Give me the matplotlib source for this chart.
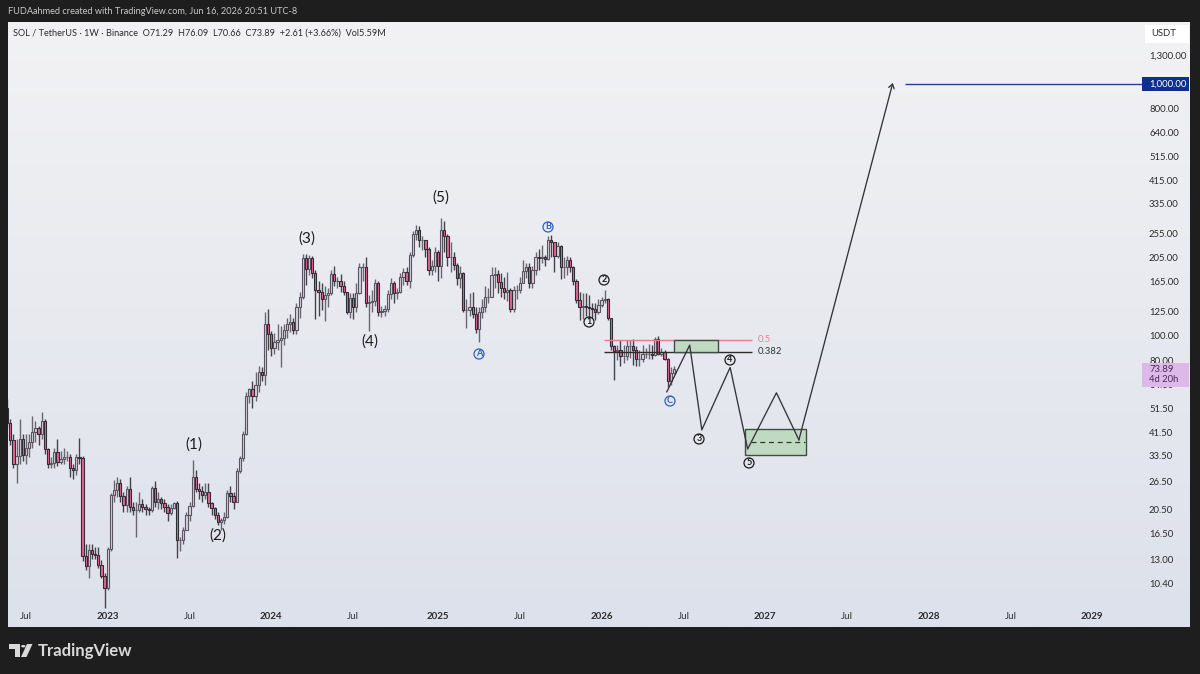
"""SOL / USDT weekly chart with the wave projection, TradingView look"""
import numpy as np
import pandas as pd
import matplotlib
matplotlib.use('Agg')
import matplotlib.pyplot as plt
import matplotlib.dates as mdates
from matplotlib.patches import Polygon, Rectangle, Circle

plt.rcParams['font.family'] = ['Lato', 'DejaVu Sans']

W, H = 1200, 674

# weekly candles
first_date = '2022-05-23'
first_open = 52
closes = [
    45, 38.7, 31, 33.5, 39, 33.8, 36, 38, 41.5, 43,
    41, 46, 35.5, 31, 31.2, 34.5, 31.5, 32.5, 33, 33,
    30, 29.4, 33, 32.8, 13.4, 12.2, 14.1, 13.7, 13.5, 12.3,
    11.2, 10, 14.3, 23.4, 24.5, 26, 23.2, 21.3, 24.7, 21,
    20.3, 20.3, 21.5, 21, 20.6, 20.3, 25, 22, 22.5, 21.7,
    21, 19.8, 20.7, 21.8, 15.5, 15.5, 17, 19.4, 21.1, 27.5,
    24.8, 24.2, 23.3, 24, 21.7, 20.7, 19.4, 18.3, 18.6, 19.2,
    23.8, 23.2, 22, 29, 32.8, 41, 58, 61.5, 58, 64,
    72, 70, 112, 102, 89.5, 95, 96, 98, 106, 112,
    114, 105.5, 130, 143, 203, 185, 203, 178, 152, 150,
    140, 146, 148, 176, 165, 166, 158, 150, 125, 142,
    130, 148, 187, 187, 135, 137, 138, 162, 125, 126,
    128, 147, 163, 148, 150, 172, 180, 165, 210, 253,
    263, 240, 240, 222, 183, 190, 215, 190, 263, 250,
    205, 205, 192, 170, 178, 127, 127, 130, 122, 107,
    125, 130, 143, 143, 175, 176, 164, 155, 150, 152,
    128, 152, 152, 162, 181, 188, 162, 182, 205, 204,
    205, 202, 240, 235, 207, 228, 187, 187, 200, 187,
    165, 139, 130, 131, 130, 129, 128, 125, 133, 139,
    140, 118, 91, 87, 88, 83, 83, 91, 91, 88,
    81, 81, 85, 85, 85, 84, 97, 85, 86, 81,
    66, 71.29, 73.89,
]
highs = [
    56, 47, 41, 39, 47, 41, 41, 41, 48, 46,
    44, 50, 47, 36, 33, 36, 39, 35, 36, 35,
    34, 31, 34, 39.5, 33.5, 15, 15, 15, 14.5, 14.5,
    12.9, 11.5, 14.6, 23.8, 26.7, 27.5, 27, 24, 25.5, 27.5,
    22, 22, 24, 22.5, 21.5, 21, 25.5, 26.5, 24, 23,
    22.5, 21.5, 21.5, 22, 22.2, 16, 17.5, 20, 22, 32.2,
    29.5, 26, 25.5, 26, 26, 22, 21, 20, 19, 20,
    24.5, 25.5, 24, 30, 33.5, 42, 60, 62, 66, 72,
    76, 75, 125, 128, 105, 103, 112, 110, 112, 118,
    122, 118, 135, 150, 212, 212, 210, 208, 182, 165,
    162, 158, 155, 183, 190, 172, 176, 165, 150, 148,
    148, 162, 195, 195, 205, 145, 152, 168, 165, 132,
    133, 152, 170, 166, 155, 177, 186, 188, 215, 262,
    275, 272, 250, 240, 225, 200, 225, 220, 295, 285,
    255, 235, 215, 195, 190, 180, 140, 148, 150, 130,
    130, 140, 158, 155, 188, 187, 183, 178, 172, 180,
    155, 158, 160, 172, 200, 195, 195, 190, 215, 222,
    230, 210, 250, 252, 237, 235, 230, 205, 208, 205,
    190, 168, 150, 148, 148, 145, 135, 135, 140, 143,
    152, 142, 118, 92, 92, 96, 92, 96, 96, 97,
    91, 88, 92, 90, 93, 92, 99, 100, 90, 88,
    82, 75, 76.09,
]
lows = [
    43, 37, 30, 26, 31, 32, 31, 33, 36, 38,
    37, 39, 34, 30, 30, 30, 30.5, 31, 31, 32,
    27.5, 27, 28, 31, 12.8, 11.8, 11, 13, 13, 12,
    11, 8.3, 9.8, 14, 22, 23, 22, 20, 20, 20,
    19.5, 16, 20, 20, 19.5, 19.5, 20, 21, 20.5, 20.5,
    20, 18.5, 19.5, 20.5, 13.2, 14, 15, 17, 18.5, 21,
    24, 22.5, 22, 22.5, 21, 19.5, 18.8, 17.8, 17, 18,
    19, 22, 20.5, 22, 28.5, 32, 40.5, 54, 52, 55,
    60, 66, 64, 88, 83, 85, 88, 75, 92, 98,
    104, 102, 102, 118, 140, 160, 175, 170, 117, 120,
    127, 115, 130, 146, 158, 155, 150, 145, 122, 118,
    117, 125, 147, 165, 130, 105, 125, 132, 120, 119,
    120, 124, 140, 135, 140, 148, 160, 160, 155, 205,
    240, 225, 220, 205, 175, 175, 180, 165, 170, 215,
    190, 180, 182, 160, 155, 125, 108, 120, 118, 103,
    95, 118, 125, 135, 143, 155, 148, 143, 140, 138,
    124, 125, 140, 148, 162, 170, 155, 155, 175, 182,
    195, 190, 200, 205, 180, 203, 168, 170, 175, 180,
    160, 135, 116, 117, 120, 118, 118, 116, 122, 130,
    135, 116, 88, 67, 80, 76, 78, 80, 82, 77,
    76, 76, 79, 82, 81, 81, 83, 84, 83, 80,
    63, 64, 70.66,
]

# hand drawn projection
wave_dates = ['2026-05-30', '2026-07-20', '2026-08-16', '2026-10-18',
              '2026-11-26', '2027-01-29', '2027-03-20', '2027-10-15']
wave_prices = [60, 92, 42.4, 75, 35.6, 59.5, 38.7, 1010]
upper_zone_dates = ['2026-06-14', '2026-09-20']
upper_zone_prices = [86.5, 96]
lower_zone_dates = ['2026-11-21', '2027-04-04']
lower_zone_prices = [33.6, 42.7]
zone_mid_dates = ['2026-12-03', '2027-04-02']
zone_mid_price = 38
fib_dates = ['2026-01-10', '2026-12-05']
fib_levels = [96, 86.5]
fib_names = ['0.5', '0.382']
target_start = '2027-11-11'
target_price = 1000
last_price = 73.89

y_ticks = [1300, 800, 640, 515, 415, 335, 255, 205, 165, 125, 100,
           80, 64, 51.5, 41.5, 33.5, 26.5, 20.5, 16.5, 13, 10.4]
x_tick_dates = ['2022-07-04', '2023-01-02', '2023-07-03', '2024-01-01', '2024-07-01',
                '2025-01-06', '2025-07-07', '2026-01-05', '2026-07-06', '2027-01-04',
                '2027-07-05', '2028-01-03', '2028-07-03', '2029-01-01']
x_tick_labels = ['Jul', '2023', 'Jul', '2024', 'Jul', '2025', 'Jul', '2026',
                 'Jul', '2027', 'Jul', '2028', 'Jul', '2029']

DARK = '#1e1e1e'
UP_FILL = '#d6d2dc'
DOWN_FILL = '#e2668f'
EDGE = '#322c36'
UP_EDGE = '#5a5460'
WICK = '#6a6670'
TXT = '#2b2b2b'


def fx(x):
    return x / W


def fy(y):
    return 1 - y / H


def panel(x0, y0, x1, y1, **kw):
    return fig.add_axes([fx(x0), fy(y1), (x1 - x0) / W, (y1 - y0) / H], **kw)


def tag(x0, y0, x1, y1, color):
    fig.add_artist(Rectangle((fx(x0), fy(y1)), (x1 - x0) / W, (y1 - y0) / H,
                             transform=fig.transFigure, facecolor=color,
                             edgecolor='none', zorder=8))


def label(x, y, s, size=6.8, color=TXT, ha='center', weight='normal', zorder=9):
    fig.text(fx(x), fy(y), s, fontsize=size, color=color, ha=ha, va='center',
             fontweight=weight, zorder=zorder)


def ring(x, y, s, color):
    # circled wave count
    r = 5.0
    fig.add_artist(Circle((x, H - y), r, transform=None, facecolor='none',
                          edgecolor=color, linewidth=0.9, zorder=9))
    label(x, y - 0.2, s, size=6.5, color=color, weight='bold')


fig = plt.figure(figsize=(W / 100, H / 100), dpi=100, facecolor=DARK)

# chart background gradient
bg = panel(8, 22, 1190, 627)
bg.axis('off')
shade = np.linspace(0, 1, 256).reshape(-1, 1, 1)
top = np.array([0xf2, 0xf2, 0xf4]).reshape(1, 1, 3) / 255
bot = np.array([0xdd, 0xe1, 0xeb]).reshape(1, 1, 3) / 255
bg.imshow(top + (bot - top) * shade, aspect='auto', extent=(0, 1, 0, 1))

ax = panel(8, 22, 1144, 627)
ax.patch.set_alpha(0)
ax.set_yscale('log')
ax.set_ylim(7.0, 1762)
ax.set_xlim(mdates.date2num(pd.Timestamp('2022-05-25')),
            mdates.date2num(pd.Timestamp('2029-04-26')))
for side in ax.spines.values():
    side.set_visible(False)

dates = mdates.date2num(pd.date_range(first_date, periods=len(closes), freq='7D'))
c = np.array(closes, dtype=float)
o = np.r_[first_open, c[:-1]]
hi = np.array(highs, dtype=float)
lo = np.array(lows, dtype=float)
up = c >= o

ax.vlines(dates[up], lo[up], hi[up], color=WICK, linewidth=1.0, zorder=2)
ax.vlines(dates[~up], lo[~up], hi[~up], color='#45424a', linewidth=1.0, zorder=2)
ax.bar(dates[up], (c - o)[up], bottom=o[up], width=5.0, facecolor=UP_FILL,
       edgecolor=UP_EDGE, linewidth=0.8, zorder=3)
ax.bar(dates[~up], (o - c)[~up], bottom=c[~up], width=5.0, facecolor=DOWN_FILL,
       edgecolor=EDGE, linewidth=0.8, zorder=3)

# fib levels and demand zones
fx0, fx1 = mdates.date2num(pd.to_datetime(fib_dates))
ax.hlines(fib_levels[0], fx0, fx1, color='#f0788c', linewidth=1.0, zorder=4)
ax.hlines(fib_levels[1], fx0, fx1, color='#2d2d2d', linewidth=1.0, zorder=4)

for zd, zp in ((upper_zone_dates, upper_zone_prices), (lower_zone_dates, lower_zone_prices)):
    z0, z1 = mdates.date2num(pd.to_datetime(zd))
    ax.add_patch(Rectangle((z0, zp[0]), z1 - z0, zp[1] - zp[0], facecolor='#c0dac2',
                           edgecolor='#3c4f40', linewidth=1.0, zorder=5))
m0, m1 = mdates.date2num(pd.to_datetime(zone_mid_dates))
ax.hlines(zone_mid_price, m0, m1, color='#2d3a30', linewidth=0.9,
          linestyles=(0, (4, 3)), zorder=6)

# wave path, the last leg ends with an open arrow head
wx = mdates.date2num(pd.to_datetime(wave_dates))
ax.plot(wx[:-1], wave_prices[:-1], color='#333338', linewidth=0.95, zorder=7)
ax.annotate('', xy=(wx[-1], wave_prices[-1]), xytext=(wx[-2], wave_prices[-2]),
            arrowprops=dict(arrowstyle='->,head_length=0.3,head_width=0.2',
                            color='#333338', lw=0.95, shrinkA=0, shrinkB=0), zorder=7)

ax.hlines(target_price, mdates.date2num(pd.Timestamp(target_start)), ax.get_xlim()[1],
          color='#23408f', linewidth=1.0, zorder=4)

# axes
ax.yaxis.tick_right()
ax.set_yticks(y_ticks)
ax.set_yticks([], minor=True)
ax.set_yticklabels([f'{v:,.2f}' for v in y_ticks])
ax.tick_params(axis='y', length=0, pad=3.6, labelsize=6.8, labelcolor=TXT)
ax.set_xticks(mdates.date2num(pd.to_datetime(x_tick_dates)))
ax.set_xticks([], minor=True)
ax.set_xticklabels(x_tick_labels)
ax.tick_params(axis='x', length=0, pad=-11, labelsize=7.0, labelcolor=TXT)
for t, s in zip(ax.get_xticklabels(), x_tick_labels):
    if s != 'Jul':
        t.set_fontweight('bold')

# header and footer
label(8, 12, 'FUDAahmed created with TradingView.com, Jun 16, 2026 20:51 UTC-8',
      size=6.6, color='#c9c9c9', ha='left')
label(13, 33, 'SOL / TetherUS · 1W · Binance  O71.29  H76.09  L70.66  C73.89  +2.61 (+3.66%)  Vol5.59M',
      size=6.6, color=TXT, ha='left')
label(38, 651, 'TradingView', size=12.1, color='#d9d9d9', ha='left', weight='bold')
fig.add_artist(Polygon([(fx(9), fy(644)), (fx(20), fy(644)), (fx(20), fy(657)), (fx(15), fy(657)),
                        (fx(15), fy(648.5)), (fx(9), fy(648.5))],
                       transform=fig.transFigure, facecolor='#d9d9d9', edgecolor='none'))
fig.add_artist(Polygon([(fx(27), fy(644)), (fx(32.5), fy(644)), (fx(26.5), fy(657)), (fx(21), fy(657))],
                       transform=fig.transFigure, facecolor='#d9d9d9', edgecolor='none'))
fig.add_artist(Circle((fx(23.3), fy(646.2)), 2.2 / W, transform=fig.transFigure,
                      facecolor='#d9d9d9', edgecolor='none'))

# price tags
tag(1145, 25, 1189, 43, 'white')
label(1151, 34, 'USDT', ha='left')
tag(1142, 77, 1189, 91, '#0f2f8e')
label(1149, 84, f'{target_price:,.2f}', color='white', ha='left')
tag(1142, 363, 1189, 387, '#dcb9e8')
label(1149, 369, f'{last_price:.2f}', color='#4b2a5c', ha='left')
label(1149, 380, '4d 20h', color='#4b2a5c', ha='left')

# fib names
label(758, 340, fib_names[0], color='#ef7f93', ha='left')
label(758, 351.5, fib_names[1], color='#333333', ha='left')

# wave counts
for x, y, s in [(194, 445, '(1)'), (218, 536, '(2)'), (307, 239, '(3)'),
                (370, 342, '(4)'), (441, 198, '(5)')]:
    label(x, y, s, size=11, color='#1c1c1c')
for x, y, s in [(479, 354, 'A'), (548, 227, 'B'), (670, 401, 'C')]:
    ring(x, y, s, '#2f5fb8')
for x, y, s in [(589, 322, '1'), (604, 280, '2'), (699, 439, '3'), (730, 360, '4'), (749, 463, '5')]:
    ring(x, y, s, '#1c1c1c')

fig.savefig('out.png', dpi=100, facecolor=DARK)
